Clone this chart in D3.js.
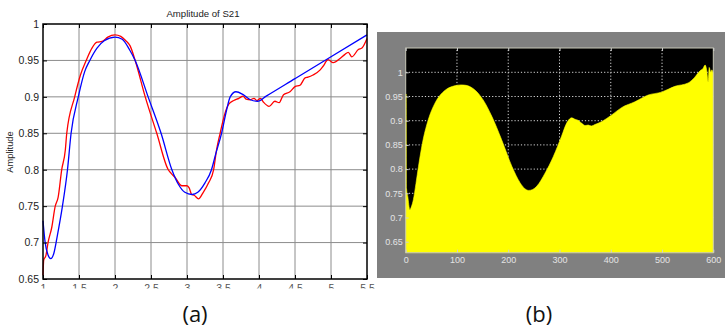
<!DOCTYPE html>
<html>
<head>
<meta charset="utf-8">
<script src="https://cdn.jsdelivr.net/npm/d3@7"></script>
<style>
  html, body { margin: 0; padding: 0; background: #ffffff; }
  svg { display: block; }
</style>
</head>
<body>
<svg id="chart" width="725" height="333"></svg>
<script>
// ---------- Data: panel (a) ----------
const titleA = "Amplitude of S21";
const yLabelA = "Amplitude";
const xTicksA = [1, 1.5, 2, 2.5, 3, 3.5, 4, 4.5, 5, 5.5];
const xTickLabelsA = ["1", "1.5", "2", "2.5", "3", "3.5", "4", "4.5", "5", "5.5"];
const yTicksA = [0.65, 0.7, 0.75, 0.8, 0.85, 0.9, 0.95, 1];
const yTickLabelsA = ["0.65", "0.7", "0.75", "0.8", "0.85", "0.9", "0.95", "1"];

// measured (red)
const redX = [1.0, 1.01, 1.04, 1.07, 1.12, 1.17, 1.21, 1.26, 1.31, 1.33, 1.44, 1.52, 1.60, 1.68, 1.75, 1.82, 1.9, 2.0, 2.08, 2.15, 2.21, 2.28, 2.42, 2.58, 2.74, 2.78, 2.83, 2.93, 3.0, 3.03, 3.065, 3.1, 3.16, 3.22, 3.30, 3.37, 3.41, 3.46, 3.52, 3.58, 3.65, 3.72, 3.78, 3.82, 3.88, 3.93, 3.97, 4.02, 4.06, 4.14, 4.22, 4.28, 4.34, 4.43, 4.50, 4.57, 4.64, 4.68, 4.75, 4.85, 4.89, 4.96, 5.03, 5.13, 5.19, 5.24, 5.29, 5.38, 5.43, 5.50];
const redY = [0.655, 0.676, 0.682, 0.70, 0.72, 0.75, 0.762, 0.80, 0.827, 0.85, 0.90, 0.93, 0.95, 0.967, 0.975, 0.976, 0.982, 0.985, 0.983, 0.977, 0.970, 0.95, 0.90, 0.85, 0.80, 0.795, 0.79, 0.778, 0.778, 0.775, 0.766, 0.765, 0.760, 0.768, 0.782, 0.80, 0.827, 0.85, 0.875, 0.89, 0.895, 0.898, 0.901, 0.897, 0.896, 0.898, 0.895, 0.898, 0.893, 0.887, 0.894, 0.892, 0.903, 0.907, 0.914, 0.916, 0.926, 0.927, 0.930, 0.937, 0.942, 0.951, 0.947, 0.953, 0.958, 0.961, 0.955, 0.965, 0.967, 0.980];

// simulated (blue)
const blueX = [1.0, 1.03, 1.07, 1.107, 1.15, 1.2, 1.27, 1.34, 1.39, 1.49, 1.58, 1.65, 1.75, 1.85, 2.0, 2.1, 2.2, 2.28, 2.46, 2.64, 2.79, 2.88, 2.97, 3.07, 3.15, 3.25, 3.34, 3.40, 3.48, 3.55, 3.60, 3.68, 3.78, 3.88, 3.98, 4.1, 4.5, 5.0, 5.5];
const blueY = [0.730, 0.700, 0.683, 0.678, 0.685, 0.71, 0.75, 0.80, 0.85, 0.90, 0.935, 0.95, 0.967, 0.977, 0.982, 0.979, 0.965, 0.95, 0.90, 0.85, 0.80, 0.78, 0.769, 0.766, 0.769, 0.782, 0.80, 0.822, 0.85, 0.882, 0.900, 0.907, 0.903, 0.896, 0.894, 0.901, 0.925, 0.955, 0.985];

// ---------- Data: panel (b) ----------
const xTicksB = [0, 100, 200, 300, 400, 500, 600];
const xTickLabelsB = ["0", "100", "200", "300", "400", "500", "600"];
const yTicksB = [0.65, 0.7, 0.75, 0.8, 0.85, 0.9, 0.95, 1];
const yTickLabelsB = ["0.65", "0.7", "0.75", "0.8", "0.85", "0.9", "0.95", "1"];
const specX = [0, 0.8, 1.6, 4, 8, 11, 15, 20, 25, 34, 44, 57, 77, 95, 108, 118, 132, 151, 168, 187, 207, 223, 232, 240, 248, 256, 272, 288, 304, 314, 320, 324, 330, 336, 343, 350, 356, 362, 369, 382, 402, 421, 447, 473, 499, 525, 551, 564, 574, 580, 584, 587, 590, 592, 595, 597, 600];
const specY = [0.955, 0.955, 0.760, 0.744, 0.716, 0.722, 0.737, 0.770, 0.806, 0.861, 0.902, 0.936, 0.963, 0.972, 0.974, 0.973, 0.966, 0.943, 0.909, 0.861, 0.806, 0.772, 0.760, 0.756, 0.758, 0.765, 0.792, 0.826, 0.868, 0.895, 0.904, 0.906, 0.903, 0.901, 0.895, 0.890, 0.891, 0.889, 0.892, 0.898, 0.912, 0.927, 0.939, 0.953, 0.959, 0.971, 0.978, 0.990, 1.003, 1.008, 1.015, 1.005, 0.980, 1.010, 1.000, 1.005, 0.998];

const labelA = "(a)";
const labelB = "(b)";

// ---------- Drawing ----------
const svg = d3.select("#chart");

// ===== Panel (a) =====
const xA = d3.scaleLinear().domain([1, 5.5]).range([43, 367]);
const yA = d3.scaleLinear().domain([0.65, 1]).range([279, 24]);
const gA = svg.append("g");

// grid
gA.append("g").selectAll("line.v").data(xTicksA.slice(1, -1)).join("line")
  .attr("x1", d => xA(d)).attr("x2", d => xA(d))
  .attr("y1", yA.range()[0]).attr("y2", yA.range()[1])
  .attr("stroke", "#8c8c8c").attr("stroke-width", 1);
gA.append("g").selectAll("line.h").data(yTicksA.slice(1, -1)).join("line")
  .attr("x1", xA.range()[0]).attr("x2", xA.range()[1])
  .attr("y1", d => yA(d)).attr("y2", d => yA(d))
  .attr("stroke", "#8c8c8c").attr("stroke-width", 1);

// curves
const lineA = d3.line().x(d => xA(d[0])).y(d => yA(d[1])).curve(d3.curveMonotoneX);
gA.append("path").datum(redX.map((x, i) => [x, redY[i]]))
  .attr("d", lineA).attr("fill", "none").attr("stroke", "#ff0000").attr("stroke-width", 1.3);
gA.append("path").datum(blueX.map((x, i) => [x, blueY[i]]))
  .attr("d", lineA).attr("fill", "none").attr("stroke", "#0000ff").attr("stroke-width", 1.3);

// axes
const fontA = "'Liberation Sans', Arial, Helvetica, sans-serif";
const axLeftA = gA.append("g").attr("transform", `translate(${xA.range()[0]},0)`)
  .call(d3.axisLeft(yA).tickValues(yTicksA).tickFormat((d, i) => yTickLabelsA[i])
    .tickSizeInner(-4).tickSizeOuter(0).tickPadding(4));
const axRightA = gA.append("g").attr("transform", `translate(${xA.range()[1]},0)`)
  .call(d3.axisRight(yA).tickValues(yTicksA).tickFormat("").tickSizeInner(-4).tickSizeOuter(0));
const axTopA = gA.append("g").attr("transform", `translate(0,${yA.range()[1]})`)
  .call(d3.axisTop(xA).tickValues(xTicksA).tickFormat("").tickSizeInner(-4).tickSizeOuter(0));

svg.append("defs").append("clipPath").attr("id", "clipXA")
  .append("rect").attr("x", 0).attr("y", 0).attr("width", 380).attr("height", 288.5);
const axBottomA = gA.append("g").attr("clip-path", "url(#clipXA)")
  .append("g").attr("transform", `translate(0,${yA.range()[0]})`)
  .call(d3.axisBottom(xA).tickValues(xTicksA).tickFormat((d, i) => xTickLabelsA[i])
    .tickSizeInner(-4).tickSizeOuter(0).tickPadding(5.8));

[axLeftA, axRightA, axTopA, axBottomA].forEach(a => {
  a.select(".domain").remove();
  a.selectAll(".tick line").attr("stroke", "#000").attr("stroke-width", 1);
  a.selectAll("text").attr("font-family", fontA).attr("font-size", 10.5).attr("fill", "#222");
});
axBottomA.selectAll("text").attr("fill", "#555");

// frame
gA.append("rect").attr("x", xA.range()[0]).attr("y", yA.range()[1])
  .attr("width", xA.range()[1] - xA.range()[0]).attr("height", yA.range()[0] - yA.range()[1])
  .attr("fill", "none").attr("stroke", "#000").attr("stroke-width", 1.5);

// title and y label
gA.append("text").attr("x", 203).attr("y", 16.5).attr("text-anchor", "middle")
  .attr("font-family", fontA).attr("font-size", 9.6).attr("fill", "#222").text(titleA);
gA.append("text").attr("transform", "translate(12.5,152) rotate(-90)").attr("text-anchor", "middle")
  .attr("font-family", fontA).attr("font-size", 9.3).attr("fill", "#222").text(yLabelA);

// ===== Panel (b) =====
const xB = d3.scaleLinear().domain([0, 600]).range([405.7, 713.3]);
const yB = d3.scaleLinear().domain([0.6273, 1.0502]).range([252.7, 48]);
const gB = svg.append("g");

gB.append("rect").attr("x", 377).attr("y", 32).attr("width", 348).attr("height", 246).attr("fill", "#808080");
gB.append("rect").attr("x", xB.range()[0]).attr("y", yB.range()[1])
  .attr("width", xB.range()[1] - xB.range()[0]).attr("height", yB.range()[0] - yB.range()[1])
  .attr("fill", "#000");

// dotted grid
gB.append("g").selectAll("line").data(xTicksB.slice(1, -1)).join("line")
  .attr("x1", d => xB(d)).attr("x2", d => xB(d))
  .attr("y1", yB.range()[0]).attr("y2", yB.range()[1])
  .attr("stroke", "#d8d8d8").attr("stroke-width", 1).attr("stroke-dasharray", "1.2,2");
gB.append("g").selectAll("line").data(yTicksB).join("line")
  .attr("x1", xB.range()[0]).attr("x2", xB.range()[1])
  .attr("y1", d => yB(d)).attr("y2", d => yB(d))
  .attr("stroke", "#d8d8d8").attr("stroke-width", 1).attr("stroke-dasharray", "1.2,2");

// yellow filled spectrum
const areaB = d3.area().x(d => xB(d[0])).y0(yB.range()[0]).y1(d => yB(d[1])).curve(d3.curveMonotoneX);
gB.append("path").datum(specX.map((x, i) => [x, specY[i]]))
  .attr("d", areaB).attr("fill", "#ffff00").attr("stroke", "#ffff00").attr("stroke-width", 0.6);

// plot border
gB.append("rect").attr("x", xB.range()[0]).attr("y", yB.range()[1])
  .attr("width", xB.range()[1] - xB.range()[0]).attr("height", yB.range()[0] - yB.range()[1])
  .attr("fill", "none").attr("stroke", "#c8c8b8").attr("stroke-width", 1);

const fontB = "'Liberation Sans', Arial, Helvetica, sans-serif";
const axLeftB = gB.append("g").attr("transform", `translate(${xB.range()[0]},0)`)
  .call(d3.axisLeft(yB).tickValues(yTicksB).tickFormat((d, i) => yTickLabelsB[i])
    .tickSizeInner(-3).tickSizeOuter(0).tickPadding(3));
const axBottomB = gB.append("g").attr("transform", `translate(0,${yB.range()[0]})`)
  .call(d3.axisBottom(xB).tickValues(xTicksB).tickFormat((d, i) => xTickLabelsB[i])
    .tickSizeInner(-3).tickSizeOuter(0).tickPadding(3.5));
const axTopB = gB.append("g").attr("transform", `translate(0,${yB.range()[1]})`)
  .call(d3.axisTop(xB).tickValues(xTicksB).tickFormat("").tickSizeInner(-3).tickSizeOuter(0));
[axLeftB, axBottomB, axTopB].forEach(a => {
  a.select(".domain").remove();
  a.selectAll(".tick line").attr("stroke", "#cfcfcf").attr("stroke-width", 1);
  a.selectAll("text").attr("font-family", fontB).attr("font-size", 9).attr("fill", "#e4e4e4");
});

// panel labels
const fontLbl = "'Open Sans', 'Noto Sans', sans-serif";
svg.append("text").attr("x", 195).attr("y", 322).attr("text-anchor", "middle")
  .attr("font-family", fontLbl).attr("font-size", 22).attr("fill", "#111").text(labelA);
svg.append("text").attr("x", 539).attr("y", 322).attr("text-anchor", "middle")
  .attr("font-family", fontLbl).attr("font-size", 22).attr("fill", "#111").text(labelB);
</script>
</body>
</html>
